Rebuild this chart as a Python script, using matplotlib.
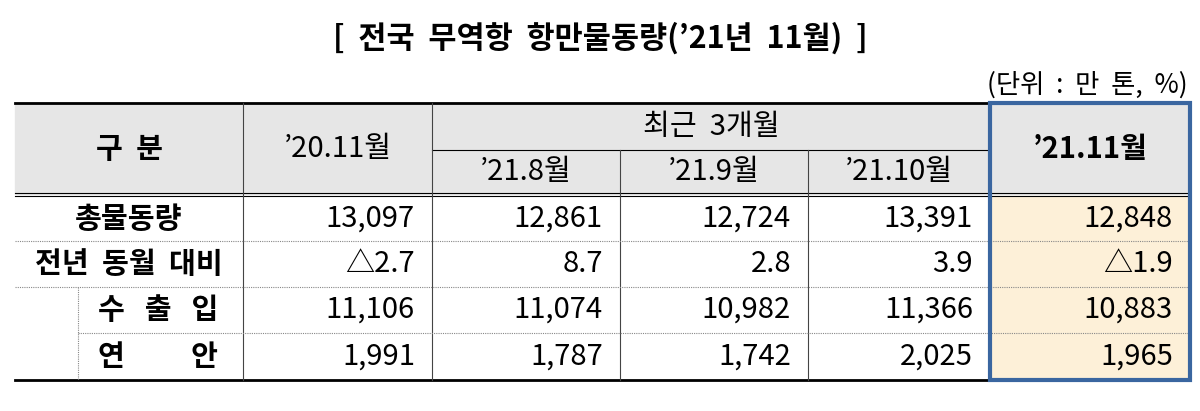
import matplotlib.pyplot as plt
from matplotlib.patches import Rectangle

plt.rcParams['font.family'] = ['Noto Sans CJK KR', 'DejaVu Sans']

# 데이터
title = "[  전국  무역항  항만물동량(’21년  11월)  ]"
unit = "(단위  :  만  톤,  %)"
row_labels = ["총물동량", "전년  동월  대비", "수   출   입", "연          안"]
col_prev = "’20.11월"
col_recent = ["’21.8월", "’21.9월", "’21.10월"]
col_now = "’21.11월"
values = [
    ["13,097", "12,861", "12,724", "13,391", "12,848"],
    ["△2.7", "8.7", "2.8", "3.9", "△1.9"],
    ["11,106", "11,074", "10,982", "11,366", "10,883"],
    ["1,991", "1,787", "1,742", "2,025", "1,965"],
]

fig = plt.figure(figsize=(12, 4.11), dpi=100)
ax = fig.add_axes([0, 0, 1, 1])
ax.set_xlim(0, 1200)
ax.set_ylim(411, 0)
ax.axis('off')

xs = [15, 243, 432, 620, 808, 990, 1190]
top, mid, hbot = 103, 150, 194
rows_y = [196, 241, 287, 333, 380]
fs = 21

# 배경
ax.add_patch(Rectangle((xs[0], top), xs[-1] - xs[0], hbot - top, color='#e6e6e6', zorder=0))
ax.add_patch(Rectangle((xs[5], rows_y[0]), xs[6] - xs[5], rows_y[-1] - rows_y[0], color='#fdf0d8', zorder=0))

ax.text(600, 38, title, ha='center', va='center', fontsize=22, fontweight='bold')
ax.text(1188, 85, unit, ha='right', va='center', fontsize=19)

# 선
ax.plot([xs[0], xs[-1]], [top, top], color='black', lw=2)
ax.plot([xs[0], xs[-1]], [rows_y[-1], rows_y[-1]], color='black', lw=2)
ax.plot([xs[2], xs[5]], [mid, mid], color='black', lw=0.8)
ax.plot([xs[0], xs[-1]], [hbot - 1.5, hbot - 1.5], color='black', lw=0.8)
ax.plot([xs[0], xs[-1]], [hbot + 1.5, hbot + 1.5], color='black', lw=0.8)
for x in xs[1:5]:
    y0 = mid if x in (xs[3], xs[4]) else top
    ax.plot([x, x], [y0, rows_y[-1]], color='#444444', lw=0.8)
for i, y in enumerate(rows_y[1:-1]):
    x0 = 78 if i == 2 else xs[0]
    ax.plot([x0, xs[-1]], [y, y], color='#888888', lw=0.8, ls=(0, (1, 1)))
ax.plot([78, 78], [rows_y[2], rows_y[-1]], color='#888888', lw=0.8, ls=(0, (1, 1)))
ax.add_patch(Rectangle((xs[5], top), xs[6] - xs[5], rows_y[-1] - top, fill=False,
                       edgecolor='#3a66a0', lw=3, zorder=5))

# 헤더
ax.text((xs[0] + xs[1]) / 2, (top + hbot) / 2, "구  분", ha='center', va='center', fontsize=fs, fontweight='bold')
ax.text((xs[1] + xs[2]) / 2, (top + hbot) / 2, col_prev, ha='center', va='center', fontsize=fs)
ax.text((xs[2] + xs[5]) / 2, (top + mid) / 2, "최근  3개월", ha='center', va='center', fontsize=fs)
for j, c in enumerate(col_recent):
    ax.text((xs[2 + j] + xs[3 + j]) / 2, (mid + hbot) / 2, c, ha='center', va='center', fontsize=fs)
ax.text((xs[5] + xs[6]) / 2, (top + hbot) / 2, col_now, ha='center', va='center', fontsize=fs, fontweight='bold')

# 본문
for i, lab in enumerate(row_labels):
    yc = (rows_y[i] + rows_y[i + 1]) / 2
    if i < 2:
        ax.text((xs[0] + xs[1]) / 2, yc, lab, ha='center', va='center', fontsize=fs, fontweight='bold')
    else:
        ax.text(218, yc, lab, ha='right', va='center', fontsize=fs, fontweight='bold')
    for j, v in enumerate(values[i]):
        ax.text(xs[2 + j] - 17, yc, v, ha='right', va='center', fontsize=fs)

fig.savefig('out.png', dpi=100)
